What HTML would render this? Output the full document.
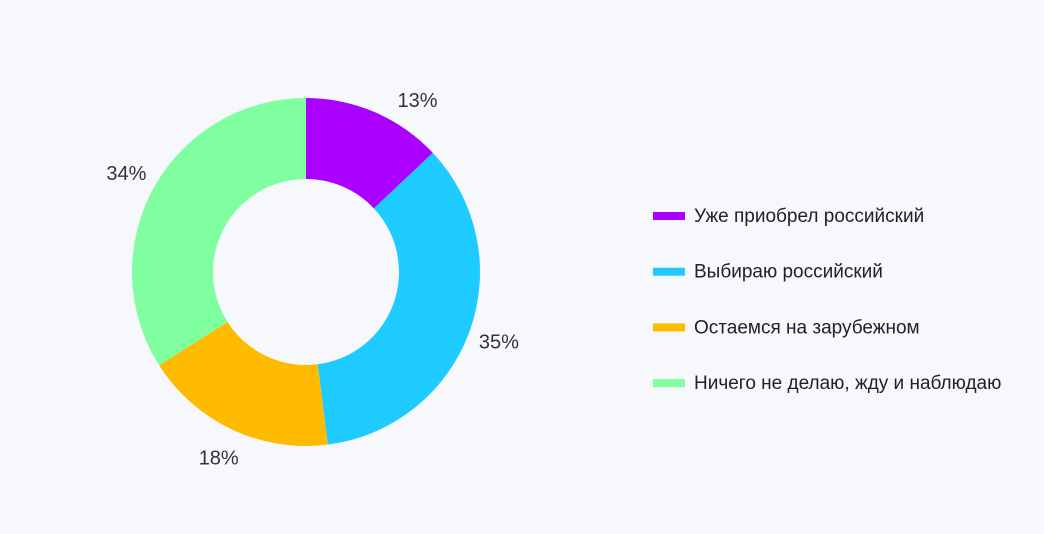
<!DOCTYPE html>
<html><head><meta charset="utf-8"><style>
html,body{margin:0;padding:0;background:#f7f8fc;}
svg{display:block;font-family:"Liberation Sans","DejaVu Sans",sans-serif;}
</style></head><body>
<svg id="chart" width="1044" height="534">
<rect width="1044" height="534" fill="#f7f8fc"/>
<g id="slices"></g>
<g id="labels"></g>
<g id="legend"></g>
</svg>
<script>
const categories = ["Уже приобрел российский","Выбираю российский","Остаемся на зарубежном","Ничего не делаю, жду и наблюдаю"];
const values = [13,35,18,34];
const valueLabels = ["13%","35%","18%","34%"];
const colors = ["#aa00ff","#1ecbff","#ffbb00","#80ffa0"];
const NS="http://www.w3.org/2000/svg";
const cx=306, cy=272, R=174, r=93, LR=205, minLabelY=100;
const total=values.reduce((a,b)=>a+b,0);
function pt(rad,ang){return [cx+rad*Math.sin(ang), cy-rad*Math.cos(ang)];}
let acc=0;
const sg=document.getElementById('slices'), lg=document.getElementById('labels'), leg=document.getElementById('legend');
values.forEach((v,i)=>{
  const a0=acc/total*2*Math.PI; acc+=v; const a1=acc/total*2*Math.PI;
  const large=(a1-a0)>Math.PI?1:0;
  const [x0,y0]=pt(R,a0),[x1,y1]=pt(R,a1),[x2,y2]=pt(r,a1),[x3,y3]=pt(r,a0);
  const p=document.createElementNS(NS,'path');
  p.setAttribute('d',`M${x0},${y0}A${R},${R} 0 ${large} 1 ${x1},${y1}L${x2},${y2}A${r},${r} 0 ${large} 0 ${x3},${y3}Z`);
  p.setAttribute('fill',colors[i]);
  
  
  sg.appendChild(p);
  const am=(a0+a1)/2; let [lx,ly]=pt(LR,am);
  if(ly<minLabelY){const dy=cy-minLabelY; const dx=Math.sqrt(LR*LR-dy*dy); lx=cx+Math.sign(Math.sin(am))*dx; ly=minLabelY;}
  const t=document.createElementNS(NS,'text');
  t.setAttribute('x',lx); t.setAttribute('y',ly+7);
  t.setAttribute('text-anchor','middle'); t.setAttribute('font-size','20'); t.setAttribute('fill','#333');
  t.textContent=valueLabels[i];
  
  
  lg.appendChild(t);
  const ly0=216+i*55.7;
  const g=document.createElementNS(NS,'g');
  
  
  const s=document.createElementNS(NS,'rect');
  s.setAttribute('x',653); s.setAttribute('y',ly0-4); s.setAttribute('width',32); s.setAttribute('height',8); s.setAttribute('fill',colors[i]);
  
  
  const tt=document.createElementNS(NS,'text');
  tt.setAttribute('x',694); tt.setAttribute('y',ly0+6); tt.setAttribute('font-size','19'); tt.setAttribute('fill','#222');
  tt.textContent=categories[i];
  
  
  g.appendChild(s); g.appendChild(tt); leg.appendChild(g);
});
</script>
</body></html>
